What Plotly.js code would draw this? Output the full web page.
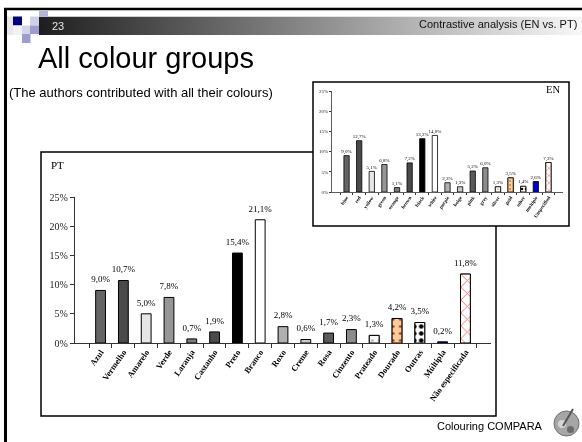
<!DOCTYPE html>
<html>
<head>
<meta charset="utf-8">
<script src="https://cdn.plot.ly/plotly-3.0.1.min.js"></script>
<style>html,body{margin:0;padding:0;background:#fff;}#chart{width:582px;height:442px;will-change:transform;}</style>
</head>
<body>
<div id="chart"></div>
<script>
// ---- data ----
const ptCategories = ['Azul','Vermelho','Amarelo','Verde','Laranja','Castanho','Preto','Branco','Roxo','Creme','Rosa','Cinzento','Prateado','Dourado','Outras','Múltipla','Não especificada'];
const ptValues = [9.0,10.7,5.0,7.8,0.7,1.9,15.4,21.1,2.8,0.6,1.7,2.3,1.3,4.2,3.5,0.2,11.8];
const enCategories = ['blue','red','yellow','green','orange','brown','black','white','purple','beige','pink','grey','silver','gold','other','multiple','Unspecified'];
const enValues = [9.0,12.7,5.1,6.8,1.1,7.2,13.2,14.0,2.3,1.3,5.2,6.0,1.3,3.5,1.4,2.6,7.3];
const yTickValues = [0,5,10,15,20,25];
const yTickLabels = ['0%','5%','10%','15%','20%','25%'];
const ptPanelLabel = 'PT';
const enPanelLabel = 'EN';
const slideNumber = '23';
const headerText = 'Contrastive analysis (EN vs. PT)';
const slideTitle = 'All colour groups';
const subtitleText = '(The authors contributed with all their colours)';
const footerText = 'Colouring COMPARA';

// ---- styles ----
const barColors = ['#646464','#4a4a4a','#e6e6e6','#969696','#7c7c7c','#4a4a4a','#000000','#ffffff','#b0b0b0','#cacaca','#5a5a5a','#8c8c8c','#f8f8f8','#ffcc99','#ffffff','#0000cc','#ffffff'];
const patternStyles = {
  12: {shape: '.', fg: '#bdbdbd', solidity: 0.15, scale: 1},
  13: {shape: '.', fg: '#b03a10', solidity: 0.12, scale: 1},
  14: {shape: '.', fg: '#000000', solidity: 0.33, scale: 1},
  16: {shape: 'x', fg: '#ff6f6f', solidity: 0.2, scale: 1.3}
};

const W = 582, H = 442;
const X = p => p / W;
const Y = p => 1 - p / H;
const fmt = v => v.toFixed(1).replace('.', ',') + '%';
const serif = 'Liberation Serif, Times New Roman, serif';
const sans = 'Liberation Sans, Arial, sans-serif';

function panelTraces(cats, vals, xa, ya, opts) {
  const traces = [];
  traces.push({
    type: 'bar', x: cats, y: vals, xaxis: xa, yaxis: ya, width: opts.width,
    marker: {color: barColors, line: {color: '#000', width: opts.lw}},
    hoverinfo: 'none'
  });
  Object.keys(patternStyles).forEach(k => {
    const i = +k, s = patternStyles[k];
    traces.push({
      type: 'bar', x: [cats[i]], y: [vals[i]], xaxis: xa, yaxis: ya, width: opts.width,
      marker: {color: barColors[i], line: {color: '#000', width: opts.lw},
        pattern: {shape: s.shape, fgcolor: s.fg, bgcolor: barColors[i], solidity: s.solidity, size: opts.psize * s.scale, fillmode: 'replace'}},
      hoverinfo: 'none'
    });
  });
  traces.push({
    type: 'scatter', mode: 'markers+text', x: cats, y: vals, xaxis: xa, yaxis: ya,
    marker: {size: opts.ms, opacity: 0, color: '#fff'},
    text: vals.map(fmt), textposition: 'top center', cliponaxis: false,
    textfont: {family: serif, size: opts.fs, color: '#000'},
    hoverinfo: 'none'
  });
  return traces;
}

const data = [].concat(
  panelTraces(ptCategories, ptValues, 'x', 'y', {width: 0.43, lw: 1, psize: 7, fs: 9, ms: 8}),
  panelTraces(enCategories, enValues, 'x2', 'y2', {width: 0.42, lw: 0.8, psize: 4, fs: 5, ms: 1})
);

// ---- header gradient as an inline SVG image ----
const gradSvg = '<svg xmlns="http://www.w3.org/2000/svg" width="543" height="19" preserveAspectRatio="none">' +
  '<defs><linearGradient id="g" x1="0" y1="0" x2="1" y2="0">' +
  '<stop offset="0" stop-color="#1e1e1e"/><stop offset="0.5" stop-color="#8a8a8a"/><stop offset="1" stop-color="#f8f8f8"/>' +
  '</linearGradient></defs><rect width="543" height="19" fill="url(#g)"/></svg>';
const gradUri = 'data:image/svg+xml;charset=utf-8,' + encodeURIComponent(gradSvg);

// ---- slide decorations ----
const shapes = [];
shapes.push({type: 'rect', xref: 'paper', yref: 'paper', x0: X(5), x1: X(13), y0: Y(35), y1: Y(16.5), fillcolor: '#e8e8e8', line: {width: 0}, layer: 'below'});
const sq = (x0, y0, x1, y1, c) => shapes.push({type: 'rect', xref: 'paper', yref: 'paper', x0: X(x0), x1: X(x1), y0: Y(y1), y1: Y(y0), fillcolor: c, line: {width: 0}, layer: 'below'});
sq(13, 16.5, 22, 25.5, '#000080');
sq(22, 16.5, 30, 25.5, '#ffffff');
sq(30, 16.5, 39, 25.5, '#cfcfea');
sq(39, 11, 48, 16.5, '#b4b4dc');
sq(13, 25.5, 22, 35, '#f2f2f2');
sq(22, 25.5, 30, 34, '#d4d4ec');
sq(30, 25.5, 39, 34, '#9c9cce');
sq(22, 34, 30.5, 43, '#9c9cce');
shapes.push({type: 'line', xref: 'paper', yref: 'paper', x0: X(4), x1: X(582), y0: Y(9), y1: Y(9), line: {color: '#000', width: 2.5}, layer: 'below'});
shapes.push({type: 'line', xref: 'paper', yref: 'paper', x0: X(5.5), x1: X(5.5), y0: Y(8), y1: Y(442), line: {color: '#000', width: 3}, layer: 'below'});
shapes.push({type: 'rect', xref: 'paper', yref: 'paper', x0: X(41), x1: X(496), y0: Y(416), y1: Y(152), fillcolor: '#ffffff', line: {color: '#000', width: 1.5}, layer: 'below'});
shapes.push({type: 'rect', xref: 'paper', yref: 'paper', x0: X(313), x1: X(569), y0: Y(226), y1: Y(82), fillcolor: '#ffffff', line: {color: '#000', width: 1.5}, layer: 'below'});
shapes.push({type: 'circle', xref: 'paper', yref: 'paper', x0: X(554), x1: X(579), y0: Y(436), y1: Y(411), fillcolor: '#a6a6a6', line: {color: '#6e6e6e', width: 1}, layer: 'below'});
shapes.push({type: 'circle', xref: 'paper', yref: 'paper', x0: X(558), x1: X(566), y0: Y(428), y1: Y(420), fillcolor: '#d6d6d6', line: {width: 0}, layer: 'below'});
shapes.push({type: 'circle', xref: 'paper', yref: 'paper', x0: X(567), x1: X(574), y0: Y(433), y1: Y(426), fillcolor: '#6a6a6a', line: {width: 0}, layer: 'below'});
shapes.push({type: 'line', xref: 'paper', yref: 'paper', x0: X(563), x1: X(573), y0: Y(426), y1: Y(409), line: {color: '#555', width: 2}, layer: 'below'});

const images = [{
  source: gradUri, xref: 'paper', yref: 'paper', x: X(39), y: Y(16.5), sizex: X(582) - X(39), sizey: Y(16.5) - Y(35),
  xanchor: 'left', yanchor: 'top', sizing: 'stretch', layer: 'below'
}];

const annotations = [
  {xref: 'paper', yref: 'paper', x: X(50), y: Y(26), xanchor: 'left', yanchor: 'middle', text: slideNumber, showarrow: false, font: {family: sans, size: 11, color: '#e6e6e6'}},
  {xref: 'paper', yref: 'paper', x: X(579), y: Y(24), xanchor: 'right', yanchor: 'middle', text: headerText, showarrow: false, font: {family: sans, size: 11, color: '#111'}},
  {xref: 'paper', yref: 'paper', x: X(7), y: Y(92), xanchor: 'left', yanchor: 'middle', text: subtitleText, showarrow: false, font: {family: sans, size: 13, color: '#000'}},
  {xref: 'paper', yref: 'paper', x: X(49), y: Y(165), xanchor: 'left', yanchor: 'middle', text: ptPanelLabel, showarrow: false, font: {family: serif, size: 11, color: '#000'}},
  {xref: 'paper', yref: 'paper', x: X(562), y: Y(90), xanchor: 'right', yanchor: 'middle', text: enPanelLabel, showarrow: false, font: {family: serif, size: 10.5, color: '#000'}},
  {xref: 'paper', yref: 'paper', x: X(490), y: Y(426), xanchor: 'center', yanchor: 'middle', text: footerText, showarrow: false, font: {family: sans, size: 11, color: '#000'}}
];

const layout = {
  width: W, height: H, autosize: false,
  margin: {l: 0, r: 0, t: 0, b: 0, pad: 0},
  paper_bgcolor: '#ffffff', plot_bgcolor: 'rgba(0,0,0,0)',
  showlegend: false,
  barmode: 'overlay',
  title: {text: slideTitle, x: X(38), xanchor: 'left', xref: 'paper', y: Y(58), yanchor: 'middle', font: {family: sans, size: 29, color: '#000'}},
  xaxis: {domain: [X(74.75), X(491.25)], anchor: 'y', type: 'category', categoryorder: 'array', categoryarray: ptCategories,
    showline: true, linecolor: '#333', linewidth: 1,
    ticks: 'outside', tickson: 'boundaries', ticklen: 4, tickcolor: '#333', tickangle: -55, automargin: false,
    tickfont: {family: serif, size: 8.5, color: '#000', weight: 'bold'}, showgrid: false, zeroline: false, fixedrange: true},
  yaxis: {domain: [Y(343), Y(197)], anchor: 'x', range: [0, 25], tickmode: 'array', tickvals: yTickValues, ticktext: yTickLabels,
    showline: true, linecolor: '#333', linewidth: 1, ticks: 'outside', ticklen: 4, tickcolor: '#333', automargin: false,
    tickfont: {family: serif, size: 10, color: '#222'}, showgrid: false, zeroline: false, fixedrange: true},
  xaxis2: {domain: [X(332), X(563)], anchor: 'y2', type: 'category', categoryorder: 'array', categoryarray: enCategories,
    showline: true, linecolor: '#333', linewidth: 0.8,
    ticks: 'outside', tickson: 'boundaries', ticklen: 2, tickcolor: '#333', tickangle: -55, automargin: false,
    tickfont: {family: serif, size: 5, color: '#000', weight: 'bold'}, showgrid: false, zeroline: false, fixedrange: true},
  yaxis2: {domain: [Y(192), Y(91)], anchor: 'x2', range: [0, 25], tickmode: 'array', tickvals: yTickValues, ticktext: yTickLabels,
    showline: true, linecolor: '#333', linewidth: 0.8, ticks: 'outside', ticklen: 2, tickcolor: '#333', automargin: false,
    tickfont: {family: serif, size: 5, color: '#222'}, showgrid: false, zeroline: false, fixedrange: true},
  shapes: shapes,
  images: images,
  annotations: annotations
};

Plotly.newPlot('chart', data, layout, {displayModeBar: false, staticPlot: true});
</script>
</body>
</html>
